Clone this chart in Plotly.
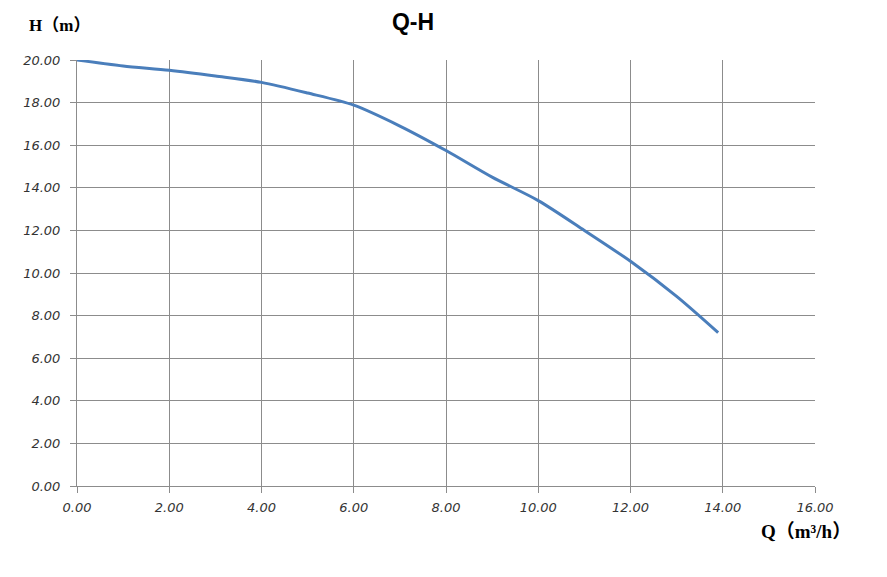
import plotly.graph_objects as go

q_values = [0.0, 1.0, 2.0, 3.0, 4.0, 5.0, 6.0, 7.0, 8.0, 9.0, 10.0, 11.0, 12.0, 13.0, 13.9]
h_values = [20.0, 19.72, 19.52, 19.25, 18.95, 18.45, 17.88, 16.9, 15.75, 14.5, 13.4, 12.0, 10.55, 8.9, 7.2]
x_ticks = [0, 2, 4, 6, 8, 10, 12, 14, 16]
y_ticks = [0, 2, 4, 6, 8, 10, 12, 14, 16, 18, 20]

fig = go.Figure()
fig.add_trace(go.Scatter(
    x=q_values, y=h_values, mode="lines",
    line=dict(color="#4a7ebb", width=3, shape="spline", smoothing=0.8),
    hoverinfo="skip", showlegend=False,
))

tick_font = dict(family="DejaVu Sans", size=13, color="#333333")
fig.update_layout(
    width=871, height=561,
    margin=dict(l=69, r=64, t=52, b=83),
    paper_bgcolor="white", plot_bgcolor="white",
    title=dict(text="<b>Q-H</b>", x=0.465, xanchor="center", y=0.975, yanchor="middle",
               font=dict(family="Liberation Sans", size=23, color="#000000")),
    xaxis=dict(range=[0, 16], tickvals=x_ticks,
               ticktext=[f"<i>{v:.2f}</i>" for v in x_ticks],
               showgrid=True, gridcolor="#8c8c8c", gridwidth=1,
               showline=True, linecolor="#8c8c8c", linewidth=1,
               ticks="outside", ticklen=6, tickcolor="#8c8c8c", ticklabelstandoff=3,
               tickfont=tick_font, zeroline=False, fixedrange=True, automargin=False),
    yaxis=dict(range=[0, 20], tickvals=y_ticks,
               ticktext=[f"<i>{v:.2f}</i>" for v in y_ticks],
               showgrid=True, gridcolor="#8c8c8c", gridwidth=1,
               showline=True, linecolor="#8c8c8c", linewidth=1,
               ticks="outside", ticklen=6, tickcolor="#8c8c8c", ticklabelstandoff=7,
               tickfont=tick_font, zeroline=False, fixedrange=True, automargin=False),
    annotations=[
        dict(text="<b>H（m）</b>", xref="paper", yref="paper", x=-0.068, y=1.082,
             xanchor="left", yanchor="middle", showarrow=False,
             font=dict(family="Liberation Serif, Noto Sans CJK SC", size=17, color="#000000")),
        dict(text="<b>Q（m³/h）</b>", xref="paper", yref="paper", x=1.052, y=-0.106,
             xanchor="right", yanchor="middle", showarrow=False,
             font=dict(family="Liberation Serif, Noto Sans CJK SC", size=19, color="#000000")),
    ],
)

fig.write_html("out.html")
